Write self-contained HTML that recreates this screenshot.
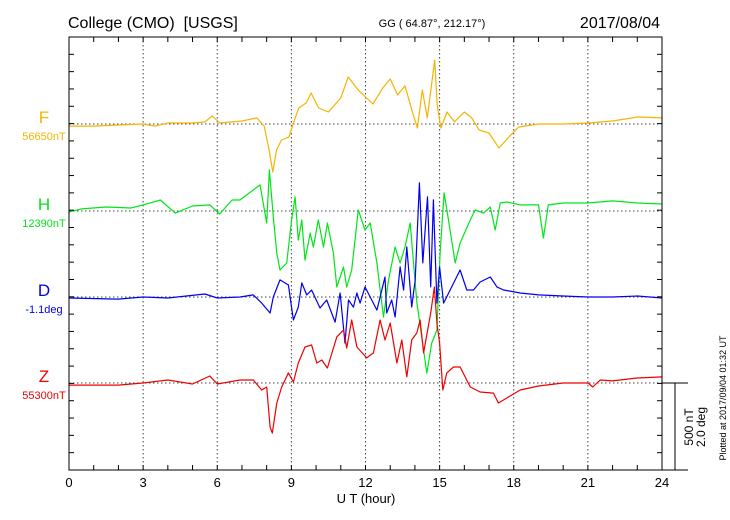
<!DOCTYPE html>
<html><head><meta charset="utf-8"><style>
body{margin:0;background:#fff;}
svg{display:block;font-family:"Liberation Sans",sans-serif;}
</style></head><body>
<svg id="chart" width="730" height="520">
<text x="68" y="28" font-size="16">College (CMO) &#160;[USGS]</text>
<text x="432" y="27" font-size="11" text-anchor="middle">GG ( 64.87°, 212.17°)</text>
<text x="660" y="28" font-size="16" text-anchor="end">2017/08/04</text>
<g id="grid"></g>
<g id="series"></g>
<rect x="69" y="37" width="593" height="433" fill="none" stroke="#000" stroke-width="1"/>
<g id="ticks"></g>
<text x="366" y="503" font-size="13" text-anchor="middle">U T (hour)</text>
<g>
<line x1="662" y1="383" x2="688" y2="383" stroke="#000"/>
<line x1="662" y1="470" x2="688" y2="470" stroke="#000"/>
<line x1="675" y1="383" x2="675" y2="470" stroke="#000"/>
</g>
<text transform="translate(693,427) rotate(-90)" font-size="12" text-anchor="middle">500 nT</text>
<text transform="translate(705,427) rotate(-90)" font-size="12" text-anchor="middle">2.0 deg</text>
<text transform="translate(726,398) rotate(-90)" font-size="9" text-anchor="middle">Plotted at 2017/09/04 01:32 UT</text>
</svg>
<script>
const xTicks=[0,3,6,9,12,15,18,21,24];
const seriesNames=["F","H","D","Z"];
const baseLabels=["56650nT","12390nT","-1.1deg","55300nT"];
const tF=[0,1,2,3,3.5,4,5,5.5,5.8,6.1,7,7.6,7.9,8.1,8.25,8.4,8.6,8.9,9.1,9.3,9.6,9.8,10.1,10.5,11,11.3,11.7,12,12.3,12.7,13,13.3,13.6,13.9,14.1,14.3,14.5,14.8,14.9,15.05,15.3,15.6,16,16.3,16.6,17,17.4,17.8,18.2,19,20,21,22,23,24];
const vF=[-12,-12,-6,0,-12,6,6,12,46,6,17,35,-12,-150,-276,-150,-92,-75,12,92,121,178,92,69,150,270,196,155,115,207,259,167,219,69,-23,196,35,368,109,-23,69,12,69,35,-35,-52,-138,-75,-17,0,0,6,17,40,35];
const tH=[0,0.5,1.5,2.5,3,3.7,4.3,5,5.7,6.1,6.6,6.92,7.73,8.0,8.11,8.27,8.41,8.54,8.81,9.01,9.15,9.28,9.42,9.55,9.76,9.89,10.09,10.3,10.46,10.7,10.84,11.11,11.24,11.44,11.71,11.98,12.19,12.46,12.73,12.93,13.2,13.4,13.6,13.81,14.08,14.28,14.48,14.68,14.89,15.02,15.18,15.36,15.63,15.83,16.24,16.44,16.78,17.05,17.25,17.45,17.72,18.26,19,19.2,19.4,20,21,22,23,24];
const vH=[-6,12,23,17,35,63,-12,29,35,-17,63,63,150,-69,236,-35,-242,-339,-299,-52,81,-167,-52,-282,-127,-207,-52,-207,-69,-242,-437,-322,-437,-339,6,-109,-69,-299,-610,-397,-207,-299,-207,-69,-529,-725,-932,-759,-684,-242,104,-52,-299,-184,-52,6,-12,23,-109,46,52,35,35,-155,35,46,46,58,46,40];
const tD=[0,2,3,4,5.5,6,6.92,7.46,7.8,8.14,8.27,8.54,8.88,9.08,9.28,9.42,9.62,9.82,10.16,10.43,10.77,10.97,11.17,11.31,11.51,11.65,11.78,11.98,12.19,12.46,12.59,12.79,12.86,13.06,13.2,13.4,13.54,13.67,13.87,14.01,14.18,14.32,14.51,14.64,14.75,14.89,15.0,15.16,15.49,15.83,16.1,16.37,16.64,17.05,17.32,17.59,18.26,19,20,21,22,23,24];
const vD=[-6,-12,0,-6,17,-6,0,12,-35,-92,0,98,69,-132,-58,81,12,40,-63,-17,-144,23,-265,-17,-58,23,-35,58,0,-75,0,115,-92,-17,-115,173,40,288,-58,98,656,196,575,58,558,-35,173,-35,58,155,40,40,86,115,58,40,23,12,6,0,0,6,-6];
const tZ=[0,2,3,4,5,5.7,6,6.92,7.46,7.8,8.0,8.14,8.23,8.41,8.61,8.88,9.08,9.28,9.55,9.82,10.03,10.23,10.46,10.84,11.11,11.24,11.44,11.65,12.05,12.32,12.59,12.79,13.0,13.27,13.47,13.67,13.87,14.08,14.21,14.35,14.64,14.79,14.89,15.0,15.13,15.29,15.56,15.83,16.24,16.64,17.18,17.38,17.72,18.26,19,20,21,21.2,21.5,22,23,24];
const vZ=[-12,-12,0,17,-6,40,-6,17,17,-40,-23,-253,-288,-115,-23,58,6,115,207,219,115,132,86,265,305,201,362,207,144,173,362,247,345,115,247,35,247,288,362,173,403,552,345,230,-40,58,92,92,-23,-52,-58,-115,-86,-40,-17,0,0,-23,17,12,29,35];

const NS="http://www.w3.org/2000/svg";
const X0=69,X1=662,Y0=37,Y1=470;
const bases=[124,211,297,383];
const colors=["#f5b400","#00e51a","#0000ee","#ee0000"];
const pxPerUnit=87/500;
function xs(t){return X0+t*(X1-X0)/24;}
function ys(i,v){return bases[i]-v*pxPerUnit;}
function mk(tag,attrs,parent){const e=document.createElementNS(NS,tag);for(const k in attrs)e.setAttribute(k,attrs[k]);parent.appendChild(e);return e;}
const grid=document.getElementById('grid'),ticks=document.getElementById('ticks'),ser=document.getElementById('series');
xTicks.forEach(t=>{
  if(t>0&&t<24){const l=mk('line',{x1:xs(t),x2:xs(t),y1:Y0,y2:Y1,stroke:'#444','stroke-dasharray':'1.5,2.5'},grid);
  
  }
  const tx=mk('text',{x:xs(t),y:487,'font-size':13,'text-anchor':'middle'},ticks);tx.textContent=t;
  
  
});
bases.forEach(b=>{const l=mk('line',{x1:X0,x2:X1,y1:b,y2:b,stroke:'#444','stroke-dasharray':'1.5,2.5'},grid);
  
  });
for(let h=1;h<24;h++){
  mk('line',{x1:xs(h),x2:xs(h),y1:Y0,y2:Y0+5,stroke:'#000'},ticks);
  mk('line',{x1:xs(h),x2:xs(h),y1:Y1,y2:Y1-5,stroke:'#000'},ticks);
}
for(let k=1;k<25;k++){const y=Y0+k*86.6/5;if(y>=Y1-1)break;
  mk('line',{x1:X0,x2:X0+5,y1:y,y2:y,stroke:'#000'},ticks);
  mk('line',{x1:X1,x2:X1-5,y1:y,y2:y,stroke:'#000'},ticks);}
const T=[tF,tH,tD,tZ],V=[vF,vH,vD,vZ];
T.forEach((ts,i)=>{
  const d=ts.map((t,j)=>(j?'L':'M')+xs(t).toFixed(1)+','+ys(i,V[i][j]).toFixed(1)).join(' ');
  const p=mk('path',{d:d,fill:'none',stroke:colors[i],'stroke-width':1.2,'stroke-linejoin':'round'},ser);
  
  
  const a=mk('text',{x:44,y:bases[i]-1,'font-size':17,'text-anchor':'middle',fill:colors[i]},ser);a.textContent=seriesNames[i];
  
  
  const b=mk('text',{x:44,y:bases[i]+16,'font-size':11,'text-anchor':'middle',fill:colors[i]},ser);b.textContent=baseLabels[i];
  
  
});
</script>
</body></html>
